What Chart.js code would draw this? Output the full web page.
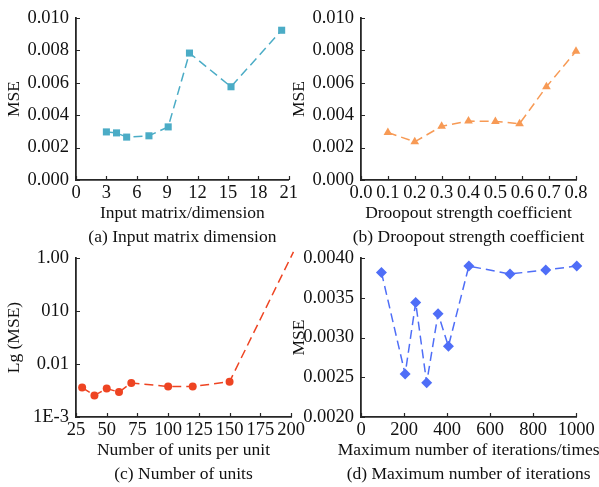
<!DOCTYPE html>
<html>
<head>
<meta charset="utf-8">
<script src="https://cdn.jsdelivr.net/npm/chart.js@4.4.1/dist/chart.umd.min.js"></script>
<style>
  html, body { margin: 0; padding: 0; background: #fff; }
  body { position: relative; width: 599px; height: 487px; overflow: hidden; }
  canvas { position: absolute; }
</style>
</head>
<body>
<canvas id="chartA"></canvas>
<canvas id="chartB"></canvas>
<canvas id="chartC"></canvas>
<canvas id="chartD"></canvas>
<script>
// (a) input matrix dimension
const dimX = [3, 4, 5, 7.2, 9.1, 11.2, 15.3, 20.3];
const dimMSE = [0.00297, 0.00291, 0.00265, 0.00273, 0.00328, 0.00784, 0.00576, 0.00925];

// (b) dropout strength
const dropX = [0.1, 0.2, 0.3, 0.4, 0.5, 0.59, 0.69, 0.8];
const dropMSE = [0.00293, 0.00236, 0.00332, 0.00364, 0.00362, 0.00348, 0.00576, 0.00795];

// (c) units per layer, log scale
const unitsX = [30, 40, 50, 60, 70, 100, 120, 150, 202];
const unitsMSE = [0.0036, 0.00255, 0.00344, 0.00295, 0.0044, 0.00375, 0.00375, 0.00464, 1.31];
const unitsTickValues = [0.001, 0.01, 0.1, 1];
const unitsTickLabels = ['1E-3', '0.01', '010', '1.00'];

// (d) max iterations
const iterX = [95, 205, 254, 305, 358, 406, 501, 692, 858, 1002];
const iterMSE = [0.00382, 0.00254, 0.00344, 0.00243, 0.0033, 0.00289, 0.0039, 0.0038, 0.00385, 0.0039];

const FONT = 'Liberation Serif';
const TICK_FS = 18.5;
const TITLE_FS = 17.5;
const AXIS = '#262626';
const TEXT = '#111';

Chart.defaults.font.family = FONT;
Chart.defaults.font.size = TICK_FS;
Chart.defaults.color = TEXT;

// inward tick marks, x-axis title and caption under each plot
const panelDecor = {
  id: 'panelDecor',
  beforeDatasetsDraw(chart) {
    const { ctx } = chart;
    const x = chart.scales.x, y = chart.scales.y;
    ctx.save();
    ctx.strokeStyle = AXIS;
    ctx.lineWidth = 1.2;
    ctx.beginPath();
    x.ticks.forEach((t, i) => {
      const px = Math.round(x.getPixelForTick(i)) + 0.5;
      ctx.moveTo(px, x.top);
      ctx.lineTo(px, x.top - 4);
    });
    y.ticks.forEach((t, i) => {
      const py = Math.round(y.getPixelForTick(i)) + 0.5;
      ctx.moveTo(y.right, py);
      ctx.lineTo(y.right + 4, py);
    });
    ctx.stroke();
    ctx.restore();
  },
  afterDraw(chart, args, opts) {
    const { ctx, chartArea: a } = chart;
    const cx = (a.left + a.right) / 2;
    ctx.save();
    ctx.fillStyle = TEXT;
    ctx.font = `${TITLE_FS}px "${FONT}"`;
    ctx.textAlign = 'center';
    ctx.textBaseline = 'middle';
    ctx.fillText(opts.xTitle, cx, a.bottom + 33.5);
    ctx.fillText(opts.caption, cx, a.bottom + 57.5);
    ctx.restore();
  }
};

const X_BAND = 70;   // tick labels, axis title and caption

function makePanel(id, frame, area, o) {
  const cv = document.getElementById(id);
  cv.width = frame.w;
  cv.height = Math.round(area.bottom - frame.y + X_BAND);
  cv.style.left = frame.x + 'px';
  cv.style.top = frame.y + 'px';

  const yScale = Object.assign({
    grid: { display: false, drawTicks: false },
    border: { display: true, color: AXIS, width: 1.8 },
    title: { display: true, text: o.yTitle, padding: { top: 4, bottom: 0 }, font: { size: TITLE_FS } },
    afterFit: s => { s.width = area.left - frame.x; }
  }, o.y);

  return new Chart(cv, {
    type: 'line',
    data: {
      datasets: [{
        data: o.xs.map((v, i) => ({ x: v, y: o.ys[i] })),
        borderColor: o.color,
        backgroundColor: o.color,
        borderWidth: 1.5,
        borderDash: [9, 5],
        tension: 0,
        pointStyle: o.marker,
        pointRadius: o.radius,
        pointBorderWidth: 0,
        clip: false
      }]
    },
    options: {
      responsive: false,
      animation: false,
      layout: {
        autoPadding: false,
        padding: { left: 0, top: area.top - frame.y, right: frame.x + frame.w - area.right, bottom: 0 }
      },
      plugins: {
        legend: { display: false },
        tooltip: { enabled: false },
        panelDecor: { xTitle: o.xTitle, caption: o.caption }
      },
      scales: {
        x: {
          type: 'linear', min: o.x.min, max: o.x.max,
          grid: { display: false, drawTicks: false },
          border: { display: true, color: AXIS, width: 1.8 },
          ticks: { stepSize: o.x.step, padding: 2, maxRotation: 0, autoSkip: false, callback: o.x.fmt },
          afterFit: s => { s.height = X_BAND; }
        },
        y: yScale
      }
    },
    plugins: [panelDecor]
  });
}

makePanel('chartA', { x: 0, y: 0, w: 300 }, { left: 76, top: 15, right: 291, bottom: 179.5 }, {
  xs: dimX, ys: dimMSE, color: '#4BACC6', marker: 'rect', radius: 5,
  xTitle: 'Input matrix/dimension', yTitle: 'MSE', caption: '(a) Input matrix dimension',
  x: { min: 0, max: 21, step: 3, fmt: v => String(v) },
  y: { type: 'linear', min: 0, max: 0.01, ticks: { padding: 7, stepSize: 0.002, callback: v => Number(v).toFixed(3) } }
});

makePanel('chartB', { x: 285, y: 0, w: 314 }, { left: 361, top: 15, right: 576, bottom: 179.5 }, {
  xs: dropX, ys: dropMSE, color: '#F79A55', marker: 'triangle', radius: 5,
  xTitle: 'Droopout strength coefficient', yTitle: 'MSE', caption: '(b) Droopout strength coefficient',
  x: { min: 0, max: 0.8, step: 0.1, fmt: v => Number(v).toFixed(1) },
  y: { type: 'linear', min: 0, max: 0.01, ticks: { padding: 7, stepSize: 0.002, callback: v => Number(v).toFixed(3) } }
});

makePanel('chartC', { x: 0, y: 240, w: 312 }, { left: 76, top: 254.7, right: 291, bottom: 416.7 }, {
  xs: unitsX, ys: unitsMSE, color: '#EE4422', marker: 'circle', radius: 4,
  xTitle: 'Number of units per unit', yTitle: 'Lg (MSE)', caption: '(c) Number of units',
  x: { min: 25, max: 200, step: 25, fmt: v => String(v) },
  y: {
    type: 'logarithmic', min: 0.001, max: 1,
    afterBuildTicks: s => { s.ticks = unitsTickValues.map(v => ({ value: v })); },
    ticks: { padding: 7, autoSkip: false, callback: v => unitsTickLabels[unitsTickValues.indexOf(v)] }
  }
});

makePanel('chartD', { x: 285, y: 240, w: 314 }, { left: 361, top: 254.5, right: 576.3, bottom: 417 }, {
  xs: iterX, ys: iterMSE, color: '#4F6EF7', marker: 'rectRot', radius: 5.5,
  xTitle: 'Maximum number of iterations/times', yTitle: 'MSE', caption: '(d) Maximum number of iterations',
  x: { min: 0, max: 1000, step: 200, fmt: v => String(v) },
  y: { type: 'linear', min: 0.002, max: 0.004, ticks: { padding: 7, stepSize: 0.0005, callback: v => Number(v).toFixed(4) } }
});
</script>
</body>
</html>
